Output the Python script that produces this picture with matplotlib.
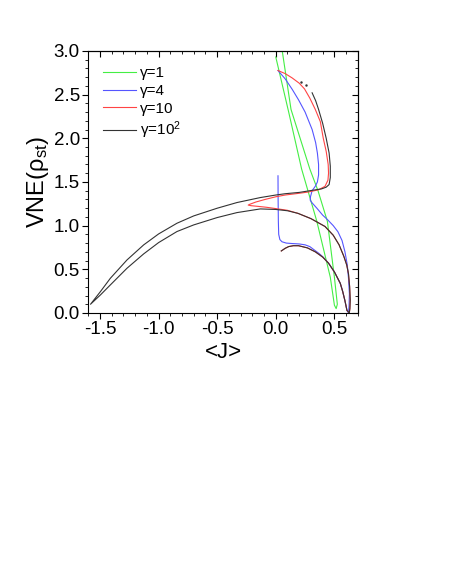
import matplotlib
matplotlib.use("Agg")
import matplotlib.pyplot as plt
from matplotlib.ticker import MultipleLocator, FormatStrFormatter

plt.rcParams["font.family"] = ["Liberation Sans", "DejaVu Sans"]
plt.rcParams["mathtext.fontset"] = "custom"
plt.rcParams["mathtext.rm"] = "Liberation Sans"
plt.rcParams["mathtext.it"] = "Liberation Sans:italic"

# gamma = 1 : thin lens-shaped loop
g1_x = [0.0, 0.11, 0.22, 0.35, 0.465, 0.50, 0.515, 0.525, 0.50, 0.44, 0.36, 0.29, 0.13, 0.055]
g1_y = [2.93, 2.30, 1.65, 1.05, 0.41, 0.09, 0.05, 0.10, 0.41, 1.05, 1.40, 1.65, 2.33, 3.0]

# gamma = 4
g4_x = [0.019, 0.02, 0.022, 0.025, 0.035, 0.053, 0.09, 0.138, 0.20, 0.25, 0.29, 0.33,
        0.37, 0.40, 0.45, 0.50, 0.55, 0.57, 0.59, 0.607, 0.62,
        0.625, 0.628, 0.62, 0.61, 0.59, 0.565, 0.53, 0.49, 0.44, 0.40, 0.35, 0.31,
        0.294, 0.296, 0.31, 0.337, 0.355, 0.365, 0.365, 0.355, 0.34, 0.31, 0.25,
        0.194, 0.14, 0.08, 0.019]
g4_y = [1.57, 1.30, 1.05, 0.90, 0.84, 0.815, 0.80, 0.795, 0.79, 0.78, 0.76, 0.72,
        0.68, 0.645, 0.57, 0.47, 0.34, 0.25, 0.14, 0.03, 0.0,
        0.08, 0.22, 0.40, 0.55, 0.70, 0.83, 0.93, 1.00, 1.07, 1.12, 1.20, 1.26,
        1.29, 1.33, 1.40, 1.45, 1.50, 1.58, 1.70, 1.83, 1.95, 2.10, 2.30,
        2.44, 2.56, 2.68, 2.775]

# gamma = 10
g10_x = [0.019, 0.08, 0.14, 0.20, 0.245, 0.29, 0.337, 0.38, 0.405, 0.43, 0.447, 0.45,
         0.445, 0.42, 0.365, 0.28, 0.2, 0.08, 0.0, -0.09, -0.17, -0.22, -0.235,
         -0.21, -0.15, -0.08, 0.0, 0.1, 0.19, 0.3, 0.42, 0.49, 0.54, 0.58, 0.605,
         0.62, 0.63, 0.635, 0.632, 0.627, 0.607, 0.59, 0.57, 0.55, 0.50, 0.45, 0.40,
         0.337, 0.27, 0.194, 0.15, 0.11, 0.08, 0.047]
g10_y = [2.775, 2.74, 2.69, 2.63, 2.565, 2.46, 2.33, 2.19, 2.00, 1.85, 1.70, 1.60,
         1.52, 1.45, 1.41, 1.385, 1.37, 1.35, 1.33, 1.30, 1.27, 1.245, 1.235,
         1.228, 1.22, 1.21, 1.195, 1.175, 1.14, 1.08, 0.99, 0.89, 0.78, 0.65, 0.55,
         0.45, 0.30, 0.15, 0.05, 0.0, 0.03, 0.14, 0.25, 0.34, 0.47, 0.57, 0.64,
         0.70, 0.745, 0.77, 0.77, 0.76, 0.74, 0.71]

# gamma = 10^2
g100_x = [0.31, 0.34, 0.365, 0.40, 0.43, 0.455, 0.465, 0.465, 0.455, 0.43, 0.39,
          0.34, 0.2, 0.08, 0.0, -0.132, -0.331, -0.50, -0.70, -0.843, -0.999,
          -1.127, -1.269, -1.411, -1.496, -1.58, -1.496, -1.411, -1.269, -1.127,
          -0.999, -0.843, -0.70, -0.50, -0.331, -0.132, 0.0, 0.1, 0.19, 0.3, 0.42,
          0.49, 0.54, 0.58, 0.605, 0.62, 0.63, 0.635, 0.632, 0.627, 0.607, 0.59,
          0.57, 0.55, 0.50, 0.45, 0.40, 0.337, 0.27, 0.194, 0.15, 0.11, 0.08, 0.047]
g100_y = [2.52, 2.43, 2.33, 2.17, 2.00, 1.83, 1.68, 1.55, 1.47, 1.44, 1.42,
          1.41, 1.38, 1.365, 1.35, 1.321, 1.264, 1.199, 1.111, 1.027, 0.905,
          0.779, 0.607, 0.397, 0.244, 0.10, 0.206, 0.321, 0.512, 0.676,
          0.806, 0.932, 1.008, 1.092, 1.149, 1.191, 1.185, 1.17, 1.14, 1.08, 0.99,
          0.89, 0.78, 0.65, 0.55, 0.45, 0.30, 0.15, 0.05, 0.0, 0.03, 0.14,
          0.25, 0.34, 0.47, 0.57, 0.64, 0.70, 0.745, 0.77, 0.77, 0.76, 0.74, 0.71]
g100_dots_x = [0.217, 0.257]
g100_dots_y = [2.64, 2.61]

labels = ["\u03b3=1", "\u03b3=4", "\u03b3=10", "\u03b3=10$^2$"]

fig = plt.figure(figsize=(4.69, 5.78), dpi=100)
ax = fig.add_axes([0.188, 0.4585, 0.575, 0.4535])

ax.plot(g1_x, g1_y, color="#44ee44", lw=0.8, label=labels[0])
ax.plot(g4_x, g4_y, color="#5555ff", lw=0.8, label=labels[1])
ax.plot(g10_x, g10_y, color="#ff4444", lw=0.8, label=labels[2])
ax.plot(g100_x, g100_y, color="#333333", lw=0.8, label=labels[3])
ax.plot(g100_dots_x, g100_dots_y, ls="none", marker=".", ms=1.5, color="#333333")

ax.set_xlim(-1.6, 0.7)
ax.set_ylim(0.0, 3.0)
for axis in (ax.xaxis, ax.yaxis):
    axis.set_major_locator(MultipleLocator(0.5))
    axis.set_minor_locator(MultipleLocator(0.1))
    axis.set_major_formatter(FormatStrFormatter("%.1f"))
ax.tick_params(which="both", direction="out", labelsize=13.5, pad=2)
ax.tick_params(which="major", length=4, width=0.8)
ax.tick_params(which="minor", length=2, width=0.6)

# mirrored ticks pointing inward on top and right
top = ax.secondary_xaxis("top")
right = ax.secondary_yaxis("right")
for sec, axis in ((top, top.xaxis), (right, right.yaxis)):
    axis.set_major_locator(MultipleLocator(0.5))
    axis.set_minor_locator(MultipleLocator(0.1))
    sec.tick_params(which="both", direction="in", labeltop=False, labelright=False)
    sec.tick_params(which="major", length=4, width=0.8)
    sec.tick_params(which="minor", length=2, width=0.6)

ax.set_xlabel("<J>", fontsize=16, labelpad=3)
ax.set_ylabel("VNE(\u03c1$_{\\rm st}$)", fontsize=17, labelpad=2)

ax.legend(loc="upper left", frameon=False, fontsize=11, handlelength=2.1,
          handletextpad=0.3, labelspacing=0.25, borderaxespad=0.6)

fig.savefig("out.png", dpi=100)
